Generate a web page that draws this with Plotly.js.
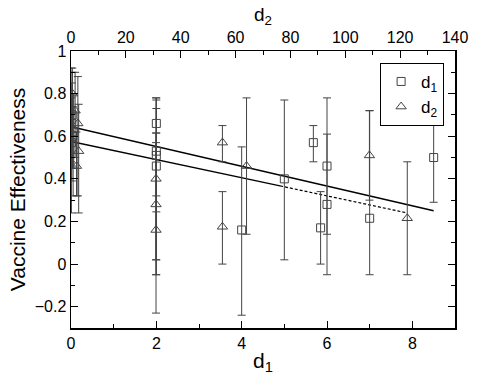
<!DOCTYPE html>
<html>
<head>
<meta charset="utf-8">
<script src="https://cdn.plot.ly/plotly-3.0.1.min.js"></script>
<style>body{margin:0;} #grafica{width:485px;height:388px;}</style>
</head>
<body>
<div id="grafica"></div>
<script>
// d1 points (squares, bottom axis)
var d1X  = [0, 0.03, 0.02, 0.05, 0.01, 0.04, 2, 2, 2, 2, 4.0, 5.0, 5.68, 5.85, 6.0, 6.0, 7.0, 8.5];
var d1Y  = [0.72, 0.70, 0.66, 0.62, 0.57, 0.60, 0.66, 0.53, 0.51, 0.46, 0.16, 0.40, 0.57, 0.17, 0.46, 0.28, 0.215, 0.50];
var d1Hi = [0.92, 0.90, 0.85, 0.80, 0.78, 0.74, 0.78, 0.77, 0.73, 0.615, 0.55, 0.77, 0.65, 0.34, 0.61, 0.78, 0.72, 0.72];
var d1Lo = [0.48, 0.46, 0.39, 0.32, 0.24, 0.45, 0.32, 0.245, 0.02, -0.05, -0.24, 0.02, 0.48, 0.0, 0.14, -0.05, -0.05, 0.29];

// d2 points (triangles, top axis)
var d2X  = [0.5, 1.5, 2.5, 1.0, 2.8, 2.0, 31, 31, 31, 55.2, 55.2, 64, 108.8, 122.6];
var d2Y  = [0.80, 0.72, 0.66, 0.63, 0.53, 0.46, 0.40, 0.28, 0.16, 0.57, 0.175, 0.46, 0.51, 0.215];
var d2Hi = [0.92, 0.90, 0.88, 0.80, 0.75, 0.62, 0.78, 0.57, 0.615, 0.65, 0.34, 0.78, 0.72, 0.48];
var d2Lo = [0.60, 0.50, 0.32, 0.45, 0.24, 0.32, -0.23, 0.02, -0.05, 0.48, 0.0, 0.14, 0.30, -0.05];

// fitted lines (in d1 units)
var fitAX = [0, 8.5],  fitAY = [0.645, 0.25];
var fitBX = [0, 4.9],  fitBY = [0.575, 0.367];
var fitCX = [4.9, 7.88], fitCY = [0.367, 0.24];

function plus(y, hi) { return y.map(function (v, i) { return hi[i] - v; }); }
function minus(y, lo) { return y.map(function (v, i) { return v - lo[i]; }); }

var errStyle = { color: '#444', thickness: 1, width: 4 };

var trace1 = {
  x: d1X, y: d1Y, type: 'scatter', mode: 'markers', name: 'd<sub>1</sub>',
  marker: { symbol: 'square-open', size: 8, color: '#444', line: { width: 1 } },
  error_y: Object.assign({ type: 'data', symmetric: false, array: plus(d1Y, d1Hi), arrayminus: minus(d1Y, d1Lo) }, errStyle)
};

var trace2 = {
  x: d2X, y: d2Y, type: 'scatter', mode: 'markers', name: 'd<sub>2</sub>', xaxis: 'x2',
  marker: { symbol: 'triangle-up-open', size: 9, color: '#444', line: { width: 1 } },
  error_y: Object.assign({ type: 'data', symmetric: false, array: plus(d2Y, d2Hi), arrayminus: minus(d2Y, d2Lo) }, errStyle)
};

var lineA = { x: fitAX, y: fitAY, type: 'scatter', mode: 'lines', showlegend: false, hoverinfo: 'skip',
  line: { color: 'black', width: 1.5 } };
var lineB = { x: fitBX, y: fitBY, type: 'scatter', mode: 'lines', showlegend: false, hoverinfo: 'skip',
  line: { color: 'black', width: 1.5 } };
var lineC = { x: fitCX, y: fitCY, type: 'scatter', mode: 'lines', showlegend: false, hoverinfo: 'skip',
  line: { color: 'black', width: 1.2, dash: '3px,2px' } };

var tickFont = { family: 'Liberation Sans, Arial, sans-serif', size: 16, color: 'black' };

var layout = {
  width: 485, height: 388,
  margin: { l: 71, r: 30, t: 51, b: 60 },
  paper_bgcolor: 'white', plot_bgcolor: 'white',
  font: { family: 'Liberation Sans, Arial, sans-serif', color: 'black' },
  showlegend: true,
  legend: {
    x: 0.805, y: 0.957, xanchor: 'left', yanchor: 'top',
    bordercolor: 'black', borderwidth: 1, bgcolor: 'white',
    font: { size: 17 }, itemwidth: 30, tracegroupgap: 0
  },
  xaxis: {
    range: [0, 9], tick0: 0, dtick: 2, ticks: 'inside', ticklen: 7, tickcolor: 'black',
    minor: { dtick: 1, ticks: 'inside', ticklen: 4, tickcolor: 'black' },
    showline: true, linecolor: 'black', linewidth: 1.5, mirror: false,
    showgrid: false, zeroline: false, tickfont: tickFont,
    title: { text: 'd<sub>1</sub>', font: { size: 21 }, standoff: 2 }
  },
  xaxis2: {
    overlaying: 'x', side: 'top', range: [0, 140], tick0: 0, dtick: 20,
    ticks: 'inside', ticklen: 7, tickcolor: 'black',
    minor: { dtick: 10, ticks: 'inside', ticklen: 4, tickcolor: 'black' },
    showline: true, linecolor: 'black', linewidth: 1.5,
    showgrid: false, zeroline: false, tickfont: tickFont,
    title: { text: 'd<sub>2</sub>', font: { size: 19 }, standoff: 2 }
  },
  yaxis: {
    range: [-0.3, 1], tick0: 0, dtick: 0.2, ticks: 'inside', ticklen: 7, tickcolor: 'black',
    minor: { dtick: 0.1, ticks: 'inside', ticklen: 4, tickcolor: 'black' },
    showline: true, linecolor: 'black', linewidth: 1.5, mirror: 'ticks',
    showgrid: false, zeroline: false, tickfont: tickFont,
    title: { text: 'Vaccine Effectiveness', font: { size: 21 }, standoff: 3 }
  }
};

var data = [lineA, lineB, lineC, trace1, trace2];

Plotly.newPlot('grafica', data, layout, { displayModeBar: false, staticPlot: true });
</script>
</body>
</html>
